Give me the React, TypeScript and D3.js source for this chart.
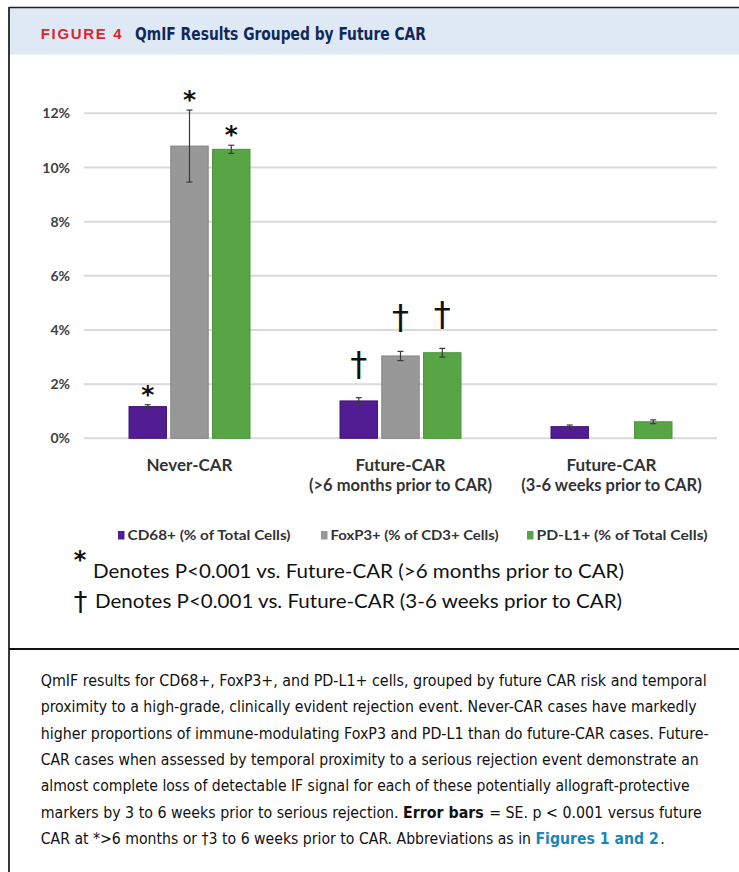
import React from "react";
import * as d3 from "d3";

// Groups on the x axis, each label split over two lines
const categories = ["Never-CAR", "Future-CAR >6mo", "Future-CAR 3-6wk"];
const categoryLine1 = ["Never-CAR", "Future-CAR", "Future-CAR"];
const categoryLine2 = ["", "(>6 months prior to CAR)", "(3-6 weeks prior to CAR)"];

// Series (legend order)
const seriesNames = ["CD68+ (% of Total Cells)", "FoxP3+ (% of CD3+ Cells)", "PD-L1+ (% of Total Cells)"];
const seriesColors = ["#521c92", "#989898", "#57a545"];
const seriesStrokes = ["#3f1478", "#858585", "#4a9639"];

// Mean percentages per group (null = not measured / not shown)
const cd68Values: (number | null)[] = [1.17, 1.38, 0.43];
const foxp3Values: (number | null)[] = [10.79, 3.04, null];
const pdl1Values: (number | null)[] = [10.67, 3.16, 0.61];

// Standard errors
const cd68Se: (number | null)[] = [0.07, 0.12, 0.06];
const foxp3Se: (number | null)[] = [1.33, 0.17, null];
const pdl1Se: (number | null)[] = [0.15, 0.16, 0.07];

// Significance markers
const cd68Marks = ["*", "†", ""];
const foxp3Marks = ["*", "†", ""];
const pdl1Marks = ["*", "†", ""];

const yTicks = [0, 2, 4, 6, 8, 10, 12];

const footnotes = [
  { sym: "*", text: "Denotes P<0.001 vs. Future-CAR (>6 months prior to CAR)" },
  { sym: "†", text: "Denotes P<0.001 vs. Future-CAR (3-6 weeks prior to CAR)" },
];

type Seg = { t: string; bold?: boolean; link?: boolean; dx?: number };
const captionLines: Seg[][] = [
  [{ t: "QmIF results for CD68+, FoxP3+, and PD-L1+ cells, grouped by future CAR risk and temporal" }],
  [{ t: "proximity to a high-grade, clinically evident rejection event. Never-CAR cases have markedly" }],
  [{ t: "higher proportions of immune-modulating FoxP3 and PD-L1 than do future-CAR cases. Future-" }],
  [{ t: "CAR cases when assessed by temporal proximity to a serious rejection event demonstrate an" }],
  [{ t: "almost complete loss of detectable IF signal for each of these potentially allograft-protective" }],
  [
    { t: "markers by 3 to 6 weeks prior to serious rejection. " },
    { t: "Error bars", bold: true },
    { t: " = SE. p < 0.001 versus future", dx: 1 },
  ],
  [
    { t: "CAR at *>6 months or †3 to 6 weeks prior to CAR. Abbreviations as in " },
    { t: "Figures 1 and 2", link: true },
    { t: ".", dx: 1.5 },
  ],
];
const captionWidths = [666, 656, 668, 658, 649, 661, 624];

const W = 739;
const H = 872;
const chartFont = "Lato, 'Open Sans', sans-serif";
const symbolFont = "'DejaVu Sans', sans-serif";
const captionFont = "'Liberation Sans Narrow', 'DejaVu Sans Condensed', 'Liberation Sans', sans-serif";

export default function App() {
  const x0 = d3.scaleBand<string>().domain(categories).range([84, 717]).padding(0);
  const x1 = d3
    .scaleBand<string>()
    .domain(seriesNames)
    .range([-61, 61])
    .paddingInner(0.08);
  const y = d3.scaleLinear().domain([0, 12]).range([438.3, 113.3]);

  const values = [cd68Values, foxp3Values, pdl1Values];
  const ses = [cd68Se, foxp3Se, pdl1Se];
  const marks = [cd68Marks, foxp3Marks, pdl1Marks];

  const bars: React.ReactNode[] = [];
  const errs: React.ReactNode[] = [];
  const sig: React.ReactNode[] = [];

  categories.forEach((cat, ci) => {
    const cx = (x0(cat) ?? 0) + x0.bandwidth() / 2;
    seriesNames.forEach((s, si) => {
      const v = values[si][ci];
      if (v == null) return;
      const bx = cx + (x1(s) ?? 0);
      const bw = x1.bandwidth();
      bars.push(
        <rect
          key={`b${ci}-${si}`}
          x={bx + 0.5}
          y={y(v)}
          width={bw - 1}
          height={y(0) - y(v)}
          fill={seriesColors[si]}
          stroke={seriesStrokes[si]}
          strokeWidth={1}
        />
      );
      const se = ses[si][ci];
      const mx = bx + bw / 2;
      let top = y(v);
      if (se != null) {
        const yt = y(v + se);
        const yb = y(v - se);
        top = yt;
        errs.push(
          <g key={`e${ci}-${si}`} stroke="#3a3a3a" strokeWidth={1.2}>
            <line x1={mx} x2={mx} y1={yt} y2={yb} />
            <line x1={mx - 3} x2={mx + 3} y1={yt} y2={yt} />
            <line x1={mx - 3} x2={mx + 3} y1={yb} y2={yb} />
          </g>
        );
      }
      const m = marks[si][ci];
      if (m === "*") {
        // asterisk centred ~16px above the top of the error bar
        sig.push(
          <text
            key={`m${ci}-${si}`}
            x={mx}
            y={top - 16 + 14}
            textAnchor="middle"
            fontFamily={symbolFont}
            fontWeight={700}
            fontSize={25}
            fill="#111"
          >
            *
          </text>
        );
      } else if (m === "†") {
        sig.push(
          <text
            key={`m${ci}-${si}`}
            x={mx}
            y={top - 15 - 7}
            textAnchor="middle"
            fontFamily={symbolFont}
            fontSize={34}
            fill="#111"
          >
            †
          </text>
        );
      }
    });
  });

  const legendX = [118, 321, 527];
  const legendW = [163, 168, 171];

  return (
    <div style={{ position: "absolute", left: 0, top: 0, width: W, height: H, background: "#fff" }}>
      <svg width={W} height={H} viewBox={`0 0 ${W} ${H}`} style={{ display: "block" }}>
        <rect x={0} y={0} width={W} height={H} fill="#fff" />
        {/* header band */}
        <rect x={9} y={8} width={W - 9} height={46.5} fill="#dee9f5" />
        <line x1={9} x2={W} y1={7.5} y2={7.5} stroke="#222" strokeWidth={1.6} />
        <line x1={9} x2={9} y1={7} y2={H} stroke="#222" strokeWidth={1.8} />
        <line x1={9} x2={W} y1={649} y2={649} stroke="#111" strokeWidth={2} />
        <text
          x={40.7}
          y={39}
          fontFamily="'Liberation Sans', Arial, sans-serif"
          fontWeight={700}
          fontSize={15}
          fill="#e0252e"
          textLength={81}
          lengthAdjust="spacing"
        >
          FIGURE 4
        </text>
        <text
          x={135}
          y={39.5}
          fontFamily={captionFont}
          fontWeight={700}
          fontSize={18}
          fill="#10295a"
          textLength={291}
          lengthAdjust="spacingAndGlyphs"
        >
          QmIF Results Grouped by Future CAR
        </text>

        {/* gridlines and y tick labels */}
        <g>
          {yTicks.map((t) => (
            <g key={t}>
              <line x1={84} x2={717} y1={y(t)} y2={y(t)} stroke="#d9d9d9" strokeWidth={2} />
              <text
                x={70}
                y={y(t)}
                dy="0.36em"
                textAnchor="end"
                fontFamily={chartFont}
                fontWeight={700}
                fontSize={14}
                fill="#404040"
              >
                {d3.format("d")(t)}%
              </text>
            </g>
          ))}
        </g>

        {bars}
        {errs}
        {sig}

        {/* category labels */}
        {categories.map((cat, ci) => {
          const cx = (x0(cat) ?? 0) + x0.bandwidth() / 2;
          return (
            <g key={cat} fontFamily={chartFont} fontWeight={700} fill="#333" textAnchor="middle">
              <text x={cx} y={471} fontSize={17}>
                {categoryLine1[ci]}
              </text>
              {categoryLine2[ci] && (
                <text x={cx} y={491} fontSize={16.5}>
                  {categoryLine2[ci]}
                </text>
              )}
            </g>
          );
        })}

        {/* legend */}
        {seriesNames.map((s, si) => (
          <g key={s}>
            <rect x={legendX[si]} y={531} width={6.5} height={8.5} fill={seriesColors[si]} />
            <text
              x={legendX[si] + 9.5}
              y={539.5}
              fontFamily={chartFont}
              fontWeight={700}
              fontSize={14}
              fill="#333"
              textLength={legendW[si]}
              lengthAdjust="spacingAndGlyphs"
            >
              {s}
            </text>
          </g>
        ))}

        {/* significance footnotes */}
        <text x={80} y={568} textAnchor="middle" fontFamily={symbolFont} fontWeight={700} fontSize={24} fill="#111">
          {footnotes[0].sym}
        </text>
        <text
          x={93}
          y={578}
          fontFamily={chartFont}
          fontSize={20}
          fill="#111"
          textLength={531}
          lengthAdjust="spacingAndGlyphs"
        >
          {footnotes[0].text}
        </text>
        <text x={80.5} y={611} textAnchor="middle" fontFamily={symbolFont} fontSize={27} fill="#111">
          {footnotes[1].sym}
        </text>
        <text
          x={95}
          y={608}
          fontFamily={chartFont}
          fontSize={20}
          fill="#111"
          textLength={527}
          lengthAdjust="spacingAndGlyphs"
        >
          {footnotes[1].text}
        </text>

        {/* caption */}
        {captionLines.map((segs, li) => (
          <text
            key={li}
            x={40.7}
            y={686 + li * 26.3}
            fontFamily={captionFont}
            fontSize={16}
            fill="#111"
            textLength={captionWidths[li]}
            lengthAdjust="spacingAndGlyphs"
          >
            {segs.map((sg, k) => (
              <tspan
                key={k}
                dx={sg.dx}
                fontWeight={sg.bold || sg.link ? 700 : 400}
                fill={sg.link ? "#1b86b7" : "#111"}
              >
                {sg.t}
              </tspan>
            ))}
          </text>
        ))}
      </svg>
    </div>
  );
}
